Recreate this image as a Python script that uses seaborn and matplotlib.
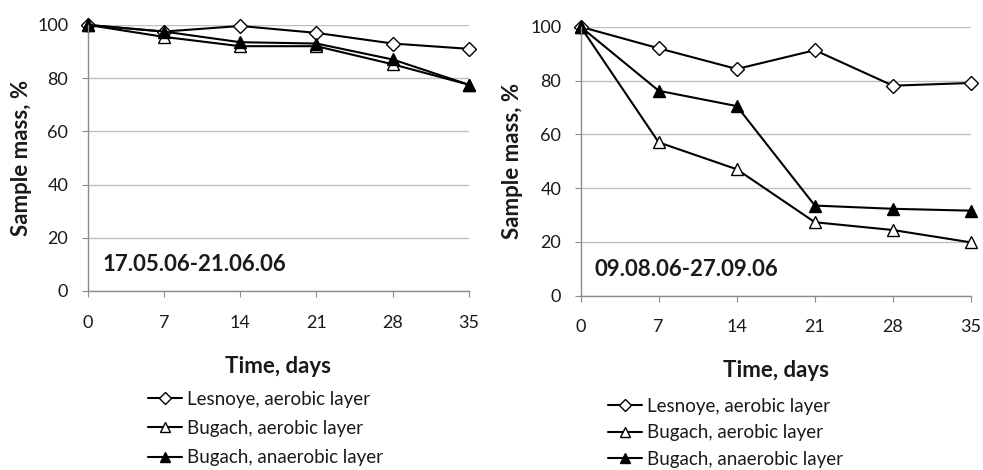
import numpy as np
import pandas as pd
import seaborn as sns
import matplotlib.pyplot as plt

sns.set_style('white')
plt.rcParams['font.family'] = ['Lato', 'DejaVu Sans']

days = [0, 7, 14, 21, 28, 35]
series_names = ['Lesnoye, aerobic layer', 'Bugach, aerobic layer', 'Bugach, anaerobic layer']

# spring run
left_lesnoye = [100, 97.5, 99.6, 97.0, 93.0, 91.0]
left_bugach_aer = [100, 95.5, 92.0, 92.0, 85.2, 77.5]
left_bugach_anaer = [100, 97.5, 93.5, 93.0, 87.0, 77.5]
left_period = '17.05.06-21.06.06'

# late summer run
right_lesnoye = [100, 92.0, 84.3, 91.3, 78.1, 79.1]
right_bugach_aer = [100, 57.0, 47.0, 27.3, 24.4, 19.8]
right_bugach_anaer = [100, 76.2, 70.5, 33.5, 32.3, 31.6]
right_period = '09.08.06-27.09.06'

marker_styles = [('D', 'white', 7.5), ('^', 'white', 9), ('^', 'black', 9)]

fig = plt.figure(figsize=(9.83, 4.70), dpi=100)
ax_l = fig.add_axes([0.0892, 0.381, 0.3879, 0.566])
ax_r = fig.add_axes([0.5907, 0.371, 0.3971, 0.572])


def draw_panel(ax, values, period, text_xy, xlabel_y, leg_xy, leg_space):
    for name, vals, (mk, fc, ms) in zip(series_names, values, marker_styles):
        sns.lineplot(x=days, y=vals, ax=ax, color='black', lw=1.5,
                     marker=mk, markerfacecolor=fc, markeredgecolor='black',
                     markeredgewidth=1.0, markersize=ms, label=name, clip_on=False)
    ax.set_xlim(0, 35)
    ax.set_ylim(0, 100)
    ax.set_xticks(days)
    ax.set_yticks(range(0, 101, 20))
    ax.grid(axis='y', color='#bfbfbf', lw=1)
    ax.set_axisbelow(True)
    for s in ['top', 'right']:
        ax.spines[s].set_visible(False)
    for s in ['left', 'bottom']:
        ax.spines[s].set_color('#8c8c8c')
        ax.spines[s].set_linewidth(1)
    ax.tick_params(axis='x', direction='out', length=4, color='#8c8c8c', pad=13,
                   labelsize=13, labelcolor='#1a1a1a', bottom=True)
    ax.tick_params(axis='y', direction='out', length=4, color='#8c8c8c', pad=10,
                   labelsize=13, labelcolor='#1a1a1a', left=True)
    ax.set_ylabel('Sample mass, %', fontsize=16, fontweight='bold', color='#1a1a1a')
    ax.yaxis.label.set_va('center')
    ax.set_xlabel('Time, days', fontsize=16, fontweight='bold', color='#1a1a1a')
    ax.xaxis.set_label_coords(0.5, xlabel_y)
    ax.xaxis.label.set_va('top')
    ax.text(text_xy[0], text_xy[1], period, transform=ax.transAxes, ha='center',
            va='center', fontsize=16, fontweight='bold', color='#1a1a1a')
    ax.legend(loc='upper left', bbox_to_anchor=leg_xy, frameon=False, fontsize=13.5,
              borderpad=0, borderaxespad=0, handlelength=1.8, handletextpad=0.27,
              labelspacing=leg_space, labelcolor='#1a1a1a', markerscale=0.85)


draw_panel(ax_l, [left_lesnoye, left_bugach_aer, left_bugach_anaer], left_period,
           (0.281, 0.0975), -0.245, (0.158, -0.375), 0.65)
draw_panel(ax_r, [right_lesnoye, right_bugach_aer, right_bugach_anaer], right_period,
           (0.272, 0.0955), -0.24, (0.071, -0.38), 0.5)

ax_l.yaxis.set_label_coords((22 - 87.7) / 381.3, 0.5)
ax_r.yaxis.set_label_coords((513 - 580.7) / 390.3, 0.5)

fig.savefig('out.png', dpi=100)
